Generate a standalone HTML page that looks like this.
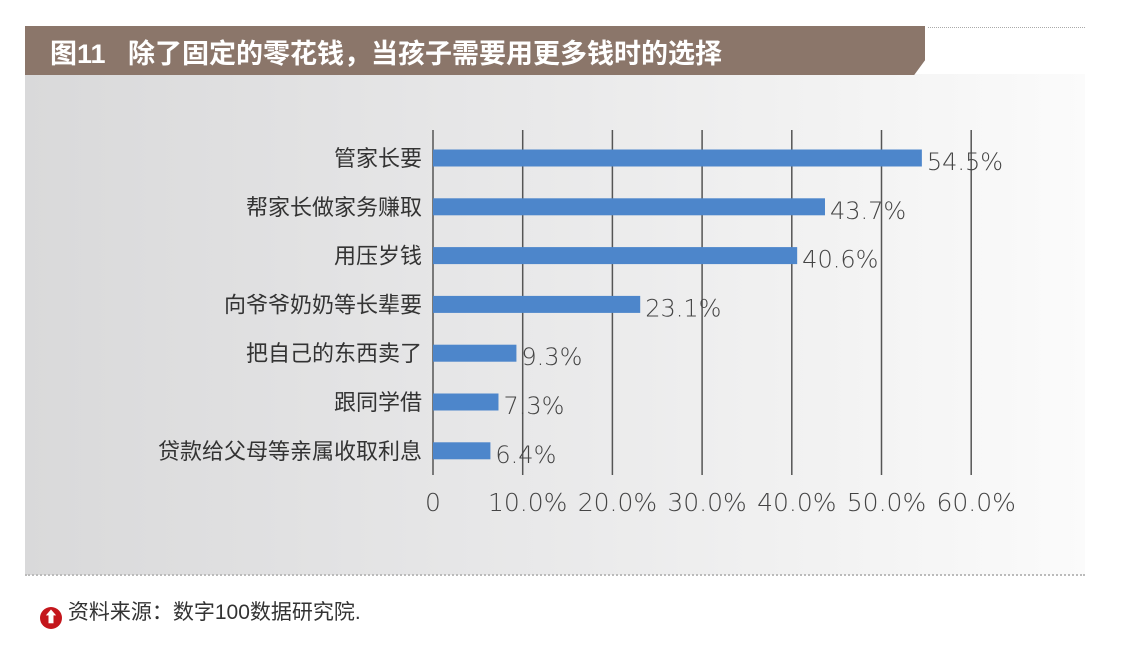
<!DOCTYPE html>
<html><head><meta charset="utf-8"><style>
body{margin:0;width:1138px;height:670px;background:#fff;position:relative;overflow:hidden;font-family:"Liberation Sans","Noto Sans CJK SC",sans-serif}
</style></head><body>
<div style="position:absolute;left:25px;top:74px;width:1060px;height:501px;background:linear-gradient(90deg,#d9d9da 0%,#e6e6e7 40%,#f2f2f2 75%,#fbfbfb 100%)"></div>
<div style="position:absolute;left:25px;top:26px;width:900px;height:49px;background:#8b766a;clip-path:polygon(0 0,100% 0,100% 70%,98.8% 100%,0 100%)"></div>
<div style="position:absolute;left:50px;top:32px;color:#fff;font-size:27px;font-weight:bold;letter-spacing:0px;white-space:nowrap">图11&nbsp;&nbsp;&nbsp;除了固定的零花钱，当孩子需要用更多钱时的选择</div>
<div style="position:absolute;left:928px;top:27px;width:157px;border-top:1px dotted #aaa"></div>
<div style="position:absolute;left:25px;top:574px;width:1060px;border-top:2px dotted #bbb"></div>
<svg width="1138" height="670" style="position:absolute;left:0;top:0">
<g id="g"></g>
</svg>
<div style="position:absolute;left:40px;top:596px;font-size:21px;color:#333;white-space:nowrap">
<span style="display:inline-block;width:22px;height:22px;border-radius:50%;background:#c4161c;color:#fff;font-size:15px;line-height:22px;text-align:center;vertical-align:-3px;font-weight:bold">⬆</span> 资料来源：数字100数据研究院.</div>
<script>
const categories=["管家长要","帮家长做家务赚取","用压岁钱","向爷爷奶奶等长辈要","把自己的东西卖了","跟同学借","贷款给父母等亲属收取利息"];
const values=[54.5,43.7,40.6,23.1,9.3,7.3,6.4];
const tickValues=[0,10,20,30,40,50,60];
const tickLabels=["0","10.0%","20.0%","30.0%","40.0%","50.0%","60.0%"];
const x0=433,pxPer=8.97,yTop=158,step=48.8,barH=17;
const xs=v=>x0+v*pxPer, ys=i=>yTop+i*step;
const g=document.getElementById('g'),NS="http://www.w3.org/2000/svg";
function mk(t,a){const e=document.createElementNS(NS,t);for(const k in a)e.setAttribute(k,a[k]);g.appendChild(e);return e;}
tickValues.forEach((v,i)=>{
 const l=mk('line',{x1:xs(v),x2:xs(v),y1:130,y2:475,stroke:'#555','stroke-width':1.5});
 
 
 const t=mk('text',{x:xs(v)+(i==0?0:5),y:511,'font-size':25,fill:'#444','text-anchor':'middle','font-family':'DejaVu Sans, sans-serif','font-weight':'200'});
 t.textContent=tickLabels[i];
 
 
});
categories.forEach((c,i)=>{
 const y=ys(i);
 const r=mk('rect',{x:x0,y:y-barH/2,width:xs(values[i])-x0,height:barH,fill:'#4d86cb'});
 
 
 const t=mk('text',{x:422,y:y+8,'font-size':22,fill:'#333','text-anchor':'end'});
 t.textContent=c;
 
 
 const v=mk('text',{x:xs(values[i])+5,y:y+12,'font-size':24,fill:'#444','font-family':'DejaVu Sans, sans-serif','font-weight':'200'});
 v.textContent=values[i].toFixed(1)+'%';
 
 
});
</script>
</body></html>
